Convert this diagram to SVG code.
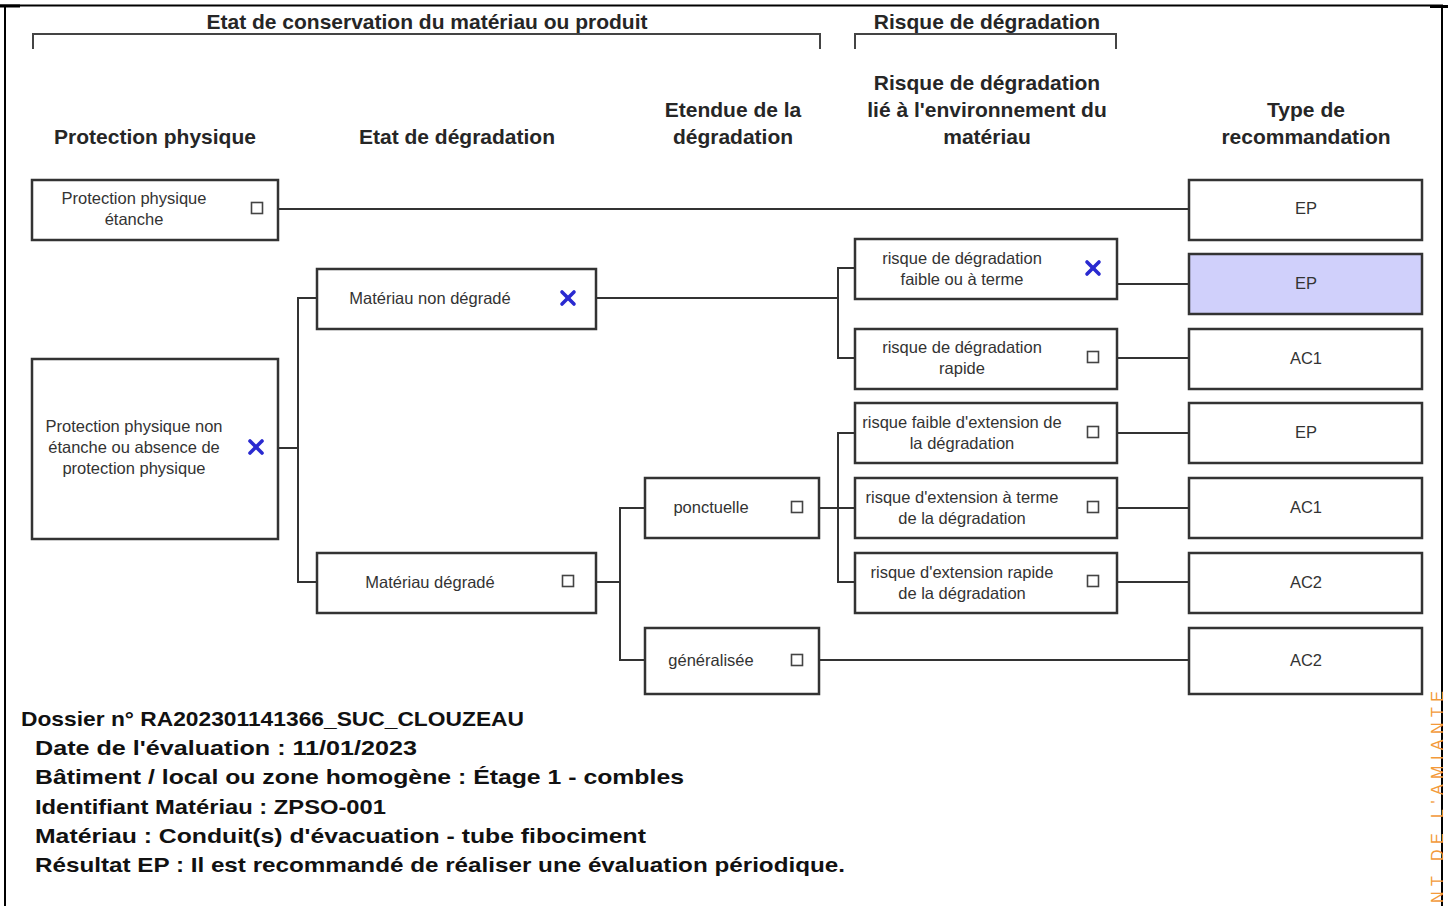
<svg xmlns="http://www.w3.org/2000/svg" width="1448" height="906" viewBox="0 0 1448 906">
<style>
.hdr{font-family:"Liberation Sans",Arial,sans-serif;font-weight:bold;font-size:21px;fill:#262626;text-anchor:middle}
.box{fill:#fff;stroke:#333;stroke-width:2.5}
.hl{fill:#d0d0fb}
.lbl{font-family:"Liberation Sans",Arial,sans-serif;font-size:16.5px;fill:#333;text-anchor:middle}
.cb{fill:#fff;stroke:#444;stroke-width:1.6}
.xm{stroke:#2a2ad0;stroke-width:3.6;stroke-linecap:round}
.con{fill:none;stroke:#333;stroke-width:2}
.brk{fill:none;stroke:#444;stroke-width:2}
.info{font-family:"Liberation Sans",Arial,sans-serif;font-weight:bold;font-size:21px;fill:#111}
</style>
<defs>
<g id="xmark"><line class="xm" x1="-6" y1="-6" x2="6" y2="6"/><line class="xm" x1="6" y1="-6" x2="-6" y2="6"/></g>
<rect id="check" class="cb" x="-5.5" y="-5.5" width="11" height="11"/>
</defs>
<rect x="0" y="0" width="1448" height="906" fill="#fff"/>
<!-- page frame -->
<g id="frame">
<line x1="0" y1="5.5" x2="1443" y2="5.5" stroke="#000" stroke-width="2"/>
<line x1="0" y1="6" x2="20" y2="6" stroke="#000" stroke-width="3"/>
<line x1="1430" y1="6.5" x2="1448" y2="6.5" stroke="#000" stroke-width="3"/>
<line x1="5" y1="5" x2="5" y2="906" stroke="#000" stroke-width="2"/>
<line x1="1442" y1="5" x2="1442" y2="906" stroke="#000" stroke-width="2"/>
</g>
<!-- headers -->
<g id="headers">
<text class="hdr" x="427" y="29">Etat de conservation du matériau ou produit</text>
<path class="brk" d="M33,49 V34 H820 V49"/>
<text class="hdr" x="987" y="29">Risque de dégradation</text>
<path class="brk" d="M855,49 V34 H1116 V49"/>
<text class="hdr" x="155" y="144">Protection physique</text>
<text class="hdr" x="457" y="144">Etat de dégradation</text>
<text class="hdr" x="733" y="117">Etendue de la</text>
<text class="hdr" x="733" y="144">dégradation</text>
<text class="hdr" x="987" y="90">Risque de dégradation</text>
<text class="hdr" x="987" y="117">lié à l'environnement du</text>
<text class="hdr" x="987" y="144">matériau</text>
<text class="hdr" x="1306" y="117">Type de</text>
<text class="hdr" x="1306" y="144">recommandation</text>
</g>
<!-- connectors -->
<g id="connectors">
<line class="con" x1="278" y1="209" x2="1189" y2="209"/>
<path class="con" d="M278,448 H298 M317,298 H298 V582 H317"/>
<path class="con" d="M596,298 H838 M855,268 H838 V358 H855"/>
<path class="con" d="M596,582 H620 M645,508 H620 V660 H645"/>
<path class="con" d="M819,508 H855 M855,433 H838 V582 H855"/>
<line class="con" x1="819" y1="660" x2="1189" y2="660"/>
<line class="con" x1="1117" y1="284" x2="1189" y2="284"/>
<line class="con" x1="1117" y1="358" x2="1189" y2="358"/>
<line class="con" x1="1117" y1="433" x2="1189" y2="433"/>
<line class="con" x1="1117" y1="508" x2="1189" y2="508"/>
<line class="con" x1="1117" y1="582" x2="1189" y2="582"/>
</g>
<!-- nodes -->
<g id="n-pp-etanche">
<rect class="box" x="32" y="180" width="246" height="60"/>
<text class="lbl" x="134" y="204">Protection physique</text>
<text class="lbl" x="134" y="225">étanche</text>
<use href="#check" x="257" y="208"/>
</g>
<g id="n-pp-non-etanche">
<rect class="box" x="32" y="359" width="246" height="180"/>
<text class="lbl" x="134" y="432">Protection physique non</text>
<text class="lbl" x="134" y="453">étanche ou absence de</text>
<text class="lbl" x="134" y="474">protection physique</text>
<use href="#xmark" x="256" y="447"/>
</g>
<g id="n-non-degrade">
<rect class="box" x="317" y="269" width="279" height="60"/>
<text class="lbl" x="430" y="304">Matériau non dégradé</text>
<use href="#xmark" x="568" y="298"/>
</g>
<g id="n-degrade">
<rect class="box" x="317" y="553" width="279" height="60"/>
<text class="lbl" x="430" y="588">Matériau dégradé</text>
<use href="#check" x="568" y="581"/>
</g>
<g id="n-ponctuelle">
<rect class="box" x="645" y="478" width="174" height="60"/>
<text class="lbl" x="711" y="513">ponctuelle</text>
<use href="#check" x="797" y="507"/>
</g>
<g id="n-generalisee">
<rect class="box" x="645" y="628" width="174" height="66"/>
<text class="lbl" x="711" y="666">généralisée</text>
<use href="#check" x="797" y="660"/>
</g>
<g id="n-risque-faible">
<rect class="box" x="855" y="239" width="262" height="60"/>
<text class="lbl" x="962" y="264">risque de dégradation</text>
<text class="lbl" x="962" y="285">faible ou à terme</text>
<use href="#xmark" x="1093" y="268"/>
</g>
<g id="n-risque-rapide">
<rect class="box" x="855" y="329" width="262" height="60"/>
<text class="lbl" x="962" y="353">risque de dégradation</text>
<text class="lbl" x="962" y="374">rapide</text>
<use href="#check" x="1093" y="357"/>
</g>
<g id="n-ext-faible">
<rect class="box" x="855" y="403" width="262" height="60"/>
<text class="lbl" x="962" y="428">risque faible d'extension de</text>
<text class="lbl" x="962" y="449">la dégradation</text>
<use href="#check" x="1093" y="432"/>
</g>
<g id="n-ext-terme">
<rect class="box" x="855" y="478" width="262" height="60"/>
<text class="lbl" x="962" y="503">risque d'extension à terme</text>
<text class="lbl" x="962" y="524">de la dégradation</text>
<use href="#check" x="1093" y="507"/>
</g>
<g id="n-ext-rapide">
<rect class="box" x="855" y="553" width="262" height="60"/>
<text class="lbl" x="962" y="578">risque d'extension rapide</text>
<text class="lbl" x="962" y="599">de la dégradation</text>
<use href="#check" x="1093" y="581"/>
</g>
<g id="r1"><rect class="box" x="1189" y="180" width="233" height="60"/><text class="lbl" x="1306" y="214">EP</text></g>
<g id="r2"><rect class="box hl" x="1189" y="254" width="233" height="60"/><text class="lbl" x="1306" y="289">EP</text></g>
<g id="r3"><rect class="box" x="1189" y="329" width="233" height="60"/><text class="lbl" x="1306" y="364">AC1</text></g>
<g id="r4"><rect class="box" x="1189" y="403" width="233" height="60"/><text class="lbl" x="1306" y="438">EP</text></g>
<g id="r5"><rect class="box" x="1189" y="478" width="233" height="60"/><text class="lbl" x="1306" y="513">AC1</text></g>
<g id="r6"><rect class="box" x="1189" y="553" width="233" height="60"/><text class="lbl" x="1306" y="588">AC2</text></g>
<g id="r7"><rect class="box" x="1189" y="628" width="233" height="66"/><text class="lbl" x="1306" y="666">AC2</text></g>
<!-- info text -->
<g id="info">
<text class="info" x="21" y="726" textLength="503" lengthAdjust="spacingAndGlyphs">Dossier n° RA202301141366_SUC_CLOUZEAU</text>
<text class="info" x="35" y="755" textLength="382" lengthAdjust="spacingAndGlyphs">Date de l'évaluation : 11/01/2023</text>
<text class="info" x="35" y="784" textLength="649" lengthAdjust="spacingAndGlyphs">Bâtiment / local ou zone homogène : Étage 1 - combles</text>
<text class="info" x="35" y="814" textLength="351" lengthAdjust="spacingAndGlyphs">Identifiant Matériau : ZPSO-001</text>
<text class="info" x="35" y="843" textLength="611" lengthAdjust="spacingAndGlyphs">Matériau : Conduit(s) d'évacuation - tube fibociment</text>
<text class="info" x="35" y="872" textLength="810" lengthAdjust="spacingAndGlyphs">Résultat EP : Il est recommandé de réaliser une évaluation périodique.</text>
</g>
<text transform="translate(1443,903) rotate(-90)" x="0" y="0" font-family="Liberation Sans, Arial, sans-serif" font-size="16" fill="#f39a3a" textLength="212" lengthAdjust="spacing">NT DE L'AMIANTE</text>
</svg>
